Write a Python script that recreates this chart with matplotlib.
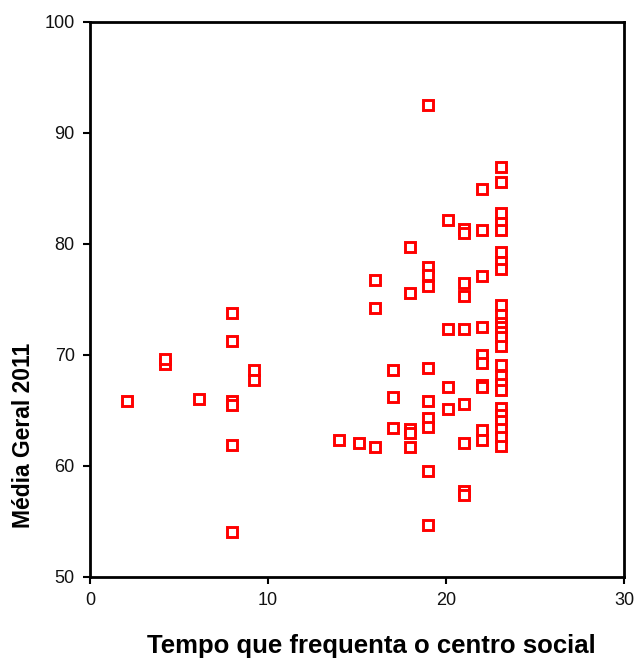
import matplotlib
matplotlib.use('Agg')
import matplotlib.pyplot as plt

plt.rcParams['font.family'] = ['Liberation Sans', 'DejaVu Sans']

# tempo que frequenta o centro social (x) vs média geral 2011 (y)
tempo = [2.1,
         4.2, 4.2,
         6.1,
         8.0, 8.0, 8.0, 8.0, 8.0, 8.0,
         9.2, 9.2,
         14.0,
         15.1,
         16.0, 16.0, 16.0,
         17.0, 17.0, 17.0,
         18.0, 18.0, 18.0, 18.0, 18.0,
         19.0, 19.0, 19.0, 19.0, 19.0, 19.0, 19.0, 19.0, 19.0, 19.0,
         20.1, 20.1, 20.1, 20.1,
         21.0, 21.0, 21.0, 21.0, 21.0, 21.0, 21.0, 21.0, 21.0,
         22.0, 22.0, 22.0, 22.0, 22.0, 22.0, 22.0, 22.0, 22.0, 22.0,
         23.1, 23.1, 23.1, 23.1, 23.1, 23.1, 23.1, 23.1, 23.1, 23.1,
         23.1, 23.1, 23.1, 23.1, 23.1, 23.1, 23.1, 23.1, 23.1, 23.1,
         23.1, 23.1, 23.1, 23.1, 23.1]
media = [65.8,
         69.2, 69.6,
         66.0,
         73.8, 71.2, 65.8, 65.5, 61.9, 54.0,
         68.6, 67.7,
         62.3,
         62.1,
         76.7, 74.2, 61.7,
         68.6, 66.2, 63.4,
         79.7, 75.6, 63.3, 63.0, 61.7,
         92.5, 77.9, 77.2, 76.2, 68.8, 65.8, 64.3, 63.5, 59.5, 54.7,
         82.1, 72.3, 67.1, 65.1,
         81.3, 81.0, 76.5, 75.3, 72.3, 65.6, 62.1, 57.7, 57.4,
         84.9, 81.2, 77.1, 72.5, 70.0, 69.3, 67.3, 67.1, 63.2, 62.3,
         86.9, 85.6, 82.8, 81.9, 81.2, 79.3, 78.4, 77.7, 74.5, 73.6,
         72.9, 72.5, 72.1, 71.6, 70.8, 69.1, 68.1, 67.4, 66.8, 65.2,
         64.6, 64.0, 63.3, 62.6, 61.8]

xticks = [0, 10, 20, 30]
yticks = [50, 60, 70, 80, 90, 100]

fig = plt.figure(figsize=(6.38, 6.60), dpi=100)
ax = fig.add_axes([0.141, 0.126, 0.837, 0.841])

ax.plot(tempo, media, linestyle='none', marker='s', markersize=6.5,
        markerfacecolor='white', markeredgecolor='#ff0000', markeredgewidth=2.1)

ax.set_xlim(0, 30)
ax.set_ylim(50, 100)
ax.set_xticks(xticks)
ax.set_yticks(yticks)
for s in ax.spines.values():
    s.set_linewidth(2)
ax.tick_params(direction='out', length=5, width=1.5, labelsize=13,
               labelcolor='#111111', pad=6)

fig.text(371 / 638, 1 - 646 / 660, 'Tempo que frequenta o centro social',
         ha='center', va='center', fontsize=18.5, fontweight='bold')
fig.text(24 / 638, 1 - 435 / 660, 'Média Geral 2011', rotation=90,
         ha='center', va='center', fontsize=16.5, fontweight='bold')

fig.savefig('out.png', dpi=100)
